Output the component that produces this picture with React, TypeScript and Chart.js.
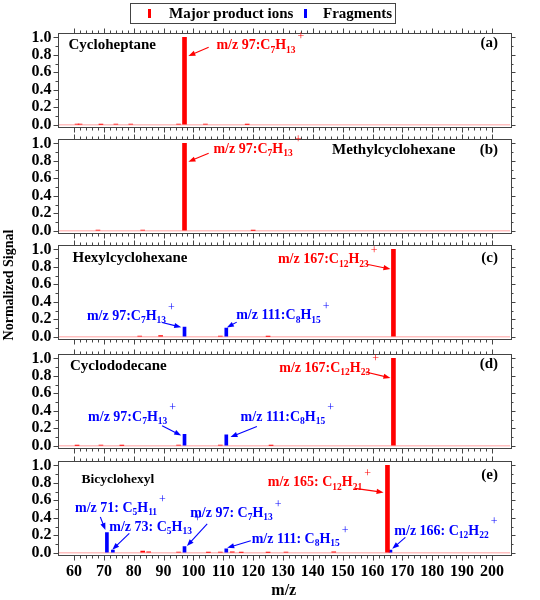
import React, { useEffect, useRef } from 'react';
import { Chart, registerables } from 'chart.js';

Chart.register(...registerables);

// ---------- data ----------
const X_TICKS = [60, 70, 80, 90, 100, 110, 120, 130, 140, 150, 160, 170, 180, 190, 200];
const Y_TICKS = [0, 0.2, 0.4, 0.6, 0.8, 1.0];
const LEGEND_LABELS = ['Major product ions', 'Fragments'];
const PANEL_NAMES = ['Cycloheptane', 'Methylcyclohexane', 'Hexylcyclohexane', 'Cyclododecane', 'Bicyclohexyl'];
const PANEL_TAGS = ['(a)', '(b)', '(c)', '(d)', '(e)'];

// (a) Cycloheptane
const majorA_mz = [61, 62, 69, 74, 79, 95, 97, 104, 118];
const majorA_val = [0.008, 0.006, 0.005, 0.008, 0.007, 0.006, 1.0, 0.006, 0.004];
const fragA_mz: number[] = [];
const fragA_val: number[] = [];

// (b) Methylcyclohexane
const majorB_mz = [68, 83, 97, 120];
const majorB_val = [0.006, 0.008, 1.0, 0.005];
const fragB_mz: number[] = [];
const fragB_val: number[] = [];

// (c) Hexylcyclohexane
const majorC_mz = [82, 89, 109, 125, 167];
const majorC_val = [0.008, 0.014, 0.006, 0.005, 1.0];
const fragC_mz = [97, 111];
const fragC_val = [0.11, 0.1];

// (d) Cyclododecane
const majorD_mz = [61, 69, 76, 95, 109, 126, 167];
const majorD_val = [0.005, 0.006, 0.005, 0.008, 0.006, 0.005, 1.0];
const fragD_mz = [97, 111];
const fragD_val = [0.13, 0.125];

// (e) Bicyclohexyl
const majorE_mz = [83, 85, 95, 105, 109, 113, 116, 125, 131, 147, 165];
const majorE_val = [0.02, 0.012, 0.008, 0.005, 0.008, 0.01, 0.005, 0.005, 0.008, 0.012, 1.0];
const fragE_mz = [71, 73, 97, 111, 166];
const fragE_val = [0.23, 0.03, 0.07, 0.045, 0.03];

// ---------- styles ----------
const RED = '#ff0000';
const BLUE = '#0000ff';
const BOX = '#444444';
const SERIF = '"Liberation Serif", "Times New Roman", serif';

type Ann = { text: string; color: string; x: number; y: number; from: [number, number]; to: [number, number] };

const ANNOTATIONS: Ann[][] = [
  [{ text: 'm/z 97:C_7H_{13}^+', color: RED, x: 107.7, y: 0.905, from: [105.1, 0.886], to: [98.3, 0.787] }],
  [{ text: 'm/z 97:C_7H_{13}^+', color: RED, x: 106.7, y: 0.935, from: [105.1, 0.886], to: [98.3, 0.79] }],
  [
    { text: 'm/z 167:C_{12}H_{23}^+', color: RED, x: 128.3, y: 0.88, from: [157.7, 0.833], to: [166.0, 0.775] },
    { text: 'm/z 97:C_7H_{13}^+', color: BLUE, x: 64.3, y: 0.233, from: [89.5, 0.164], to: [95.9, 0.11] },
    { text: 'm/z 111:C_8H_{15}^+', color: BLUE, x: 114.3, y: 0.24, from: [114.5, 0.168], to: [111.2, 0.106] },
  ],
  [
    { text: 'm/z 167:C_{12}H_{23}^+', color: RED, x: 128.75, y: 0.888, from: [157.7, 0.844], to: [166.0, 0.776] },
    { text: 'm/z 97:C_7H_{13}^+', color: BLUE, x: 64.7, y: 0.33, from: [89.5, 0.23], to: [95.9, 0.118] },
    { text: 'm/z 111:C_8H_{15}^+', color: BLUE, x: 115.8, y: 0.33, from: [121.25, 0.22], to: [112.4, 0.1] },
  ],
  [
    { text: 'm/z 165: C_{12}H_{21}^+', color: RED, x: 124.9, y: 0.801, from: [154.1, 0.737], to: [163.7, 0.691] },
    { text: 'm/z 71: C_5H_{11}^+', color: BLUE, x: 60.3, y: 0.508, from: [68.8, 0.41], to: [70.5, 0.26] },
    { text: 'm/z 73: C_5H_{13}^+', color: BLUE, x: 71.8, y: 0.29, from: [78.5, 0.222], to: [72.8, 0.035] },
    { text: 'm/z 97: C_7H_{13}^+', color: BLUE, x: 98.9, y: 0.45, from: [104.6, 0.33], to: [97.8, 0.077] },
    { text: 'm/z 111: C_8H_{15}^+', color: BLUE, x: 119.5, y: 0.153, from: [119.2, 0.137], to: [111.3, 0.057] },
    { text: 'm/z 166: C_{12}H_{22}^+', color: BLUE, x: 167.3, y: 0.248, from: [171.0, 0.176], to: [166.6, 0.046] },
  ],
];

const PANEL_DATA = [
  { major: [majorA_mz, majorA_val], frag: [fragA_mz, fragA_val] },
  { major: [majorB_mz, majorB_val], frag: [fragB_mz, fragB_val] },
  { major: [majorC_mz, majorC_val], frag: [fragC_mz, fragC_val] },
  { major: [majorD_mz, majorD_val], frag: [fragD_mz, fragD_val] },
  { major: [majorE_mz, majorE_val], frag: [fragE_mz, fragE_val] },
];

// layout: label placement per panel (px offsets relative to chart area)
const NAME_POS = [
  { dx: 11, dy: 12.5, size: 15 },
  { dx: 274.5, dy: 11, size: 15 },
  { dx: 15, dy: 13.5, size: 15 },
  { dx: 12.5, dy: 12, size: 15 },
  { dx: 24, dy: 19, size: 13.5 },
];
const TAG_DY = [10, 11, 13.5, 10.5, 14];
const AREA_TOPS = [33, 139, 245, 354, 461];
const AREA_H = 94;
const PAD = 18;
const X_AXIS_H = 44;

type Seg = { t: string; k: 'n' | 'sub' | 'sup' };
function parseRich(s: string): Seg[] {
  const segs: Seg[] = [];
  const re = /_\{([^}]*)\}|_(.)|\^\{([^}]*)\}|\^(.)|([^_^]+)/g;
  let m: RegExpExecArray | null;
  while ((m = re.exec(s))) {
    if (m[1] !== undefined || m[2] !== undefined) segs.push({ t: (m[1] ?? m[2]) as string, k: 'sub' });
    else if (m[3] !== undefined || m[4] !== undefined) segs.push({ t: (m[3] ?? m[4]) as string, k: 'sup' });
    else segs.push({ t: m[5], k: 'n' });
  }
  return segs;
}

function drawRich(ctx: CanvasRenderingContext2D, text: string, x: number, y: number, color: string) {
  let cx = x;
  ctx.fillStyle = color;
  ctx.textAlign = 'left';
  ctx.textBaseline = 'middle';
  for (const s of parseRich(text)) {
    if (s.k === 'n') {
      ctx.font = `bold 14px ${SERIF}`;
      ctx.fillText(s.t, cx, y);
      cx += ctx.measureText(s.t).width;
    } else if (s.k === 'sub') {
      ctx.font = `bold 9.5px ${SERIF}`;
      ctx.fillText(s.t, cx, y + 4.5);
      cx += ctx.measureText(s.t).width;
    } else {
      ctx.font = `12px ${SERIF}`;
      cx += 2;
      ctx.fillText(s.t, cx, y - 9);
      cx += ctx.measureText(s.t).width;
    }
  }
}

function drawArrow(ctx: CanvasRenderingContext2D, x1: number, y1: number, x2: number, y2: number, color: string) {
  const ang = Math.atan2(y2 - y1, x2 - x1);
  const hl = 7;
  const hw = 2.6;
  ctx.strokeStyle = color;
  ctx.fillStyle = color;
  ctx.lineWidth = 1.1;
  ctx.beginPath();
  ctx.moveTo(x1, y1);
  ctx.lineTo(x2 - Math.cos(ang) * hl * 0.8, y2 - Math.sin(ang) * hl * 0.8);
  ctx.stroke();
  ctx.beginPath();
  ctx.moveTo(x2, y2);
  ctx.lineTo(x2 - Math.cos(ang) * hl - Math.sin(ang) * hw, y2 - Math.sin(ang) * hl + Math.cos(ang) * hw);
  ctx.lineTo(x2 - Math.cos(ang) * hl + Math.sin(ang) * hw, y2 - Math.sin(ang) * hl - Math.cos(ang) * hw);
  ctx.closePath();
  ctx.fill();
}

function makeDecoPlugin(idx: number) {
  return {
    id: 'deco' + idx,
    afterDraw(chart: any) {
      const ctx: CanvasRenderingContext2D = chart.ctx;
      const { left, right, top, bottom } = chart.chartArea;
      const xs = chart.scales.x;
      const ys = chart.scales.y;
      ctx.save();
      // frame
      ctx.strokeStyle = BOX;
      ctx.lineWidth = 1;
      ctx.strokeRect(Math.round(left) + 0.5, Math.round(top) + 0.5, Math.round(right - left), Math.round(bottom - top));
      // x ticks top/bottom (outward)
      ctx.beginPath();
      for (let v = 60; v <= 200; v += 2) {
        const px = Math.round(xs.getPixelForValue(v)) + 0.5;
        const len = v % 10 === 0 ? 4.5 : 2.5;
        ctx.moveTo(px, Math.round(top));
        ctx.lineTo(px, Math.round(top) - len);
        ctx.moveTo(px, Math.round(bottom) + 1);
        ctx.lineTo(px, Math.round(bottom) + 1 + len);
      }
      // y ticks left/right (outward)
      for (let i = 0; i <= 10; i++) {
        const py = Math.round(ys.getPixelForValue(i / 10)) + 0.5;
        const len = i % 2 === 0 ? 4.5 : 2.5;
        ctx.moveTo(Math.round(left), py);
        ctx.lineTo(Math.round(left) - len, py);
        ctx.moveTo(Math.round(right) + 1, py);
        ctx.lineTo(Math.round(right) + 1 + len, py);
      }
      ctx.stroke();
      // panel names and tags
      const np = NAME_POS[idx];
      ctx.fillStyle = '#000';
      ctx.textBaseline = 'middle';
      ctx.textAlign = 'left';
      ctx.font = `bold ${np.size}px ${SERIF}`;
      ctx.fillText(PANEL_NAMES[idx], left + np.dx, top + np.dy);
      ctx.textAlign = 'right';
      ctx.font = `bold 15px ${SERIF}`;
      ctx.fillText(PANEL_TAGS[idx], right - 12, top + TAG_DY[idx]);
      // annotations
      for (const a of ANNOTATIONS[idx]) {
        drawArrow(ctx, xs.getPixelForValue(a.from[0]), ys.getPixelForValue(a.from[1]), xs.getPixelForValue(a.to[0]), ys.getPixelForValue(a.to[1]), a.color);
        drawRich(ctx, a.text, xs.getPixelForValue(a.x), ys.getPixelForValue(a.y), a.color);
      }
      ctx.restore();
    },
  };
}

function Panel({ idx }: { idx: number }) {
  const ref = useRef<HTMLCanvasElement>(null);
  const last = idx === PANEL_DATA.length - 1;
  const h = PAD + AREA_H + (last ? X_AXIS_H : PAD);
  useEffect(() => {
    if (!ref.current) return;
    const d = PANEL_DATA[idx];
    const tickFont = { family: SERIF, size: 16, weight: 'bold' as const };
    const chart = new Chart(ref.current, {
      type: 'bar',
      data: {
        datasets: [
          { label: LEGEND_LABELS[0], data: d.major[0].map((x, i) => ({ x, y: d.major[1][i] })), backgroundColor: RED, barThickness: 4, grouped: false } as any,
          { label: LEGEND_LABELS[1], data: d.frag[0].map((x, i) => ({ x, y: d.frag[1][i] })), backgroundColor: BLUE, barThickness: 3, grouped: false } as any,
        ],
      },
      options: {
        responsive: false,
        animation: false,
        layout: { padding: { top: PAD, bottom: last ? 0 : PAD, left: 0, right: 30 } },
        plugins: { legend: { display: false }, tooltip: { enabled: false } },
        scales: {
          x: {
            type: 'linear',
            min: 59.5,
            max: 201,
            display: last,
            afterBuildTicks: (s: any) => {
              s.ticks = X_TICKS.map((v) => ({ value: v }));
            },
            afterFit: (s: any) => {
              if (last) s.height = X_AXIS_H;
            },
            grid: { display: false, drawTicks: false },
            border: { display: false },
            ticks: { display: last, font: tickFont, color: '#000', padding: 7, maxRotation: 0, autoSkip: false },
            title: {
              display: last,
              text: 'm/z',
              font: { family: SERIF, size: 16, weight: 'bold', lineHeight: 1 },
              color: '#000',
              padding: { top: 0, bottom: 0 },
            },
          },
          y: {
            type: 'linear',
            min: -0.025,
            max: 1.05,
            afterBuildTicks: (s: any) => {
              s.ticks = Y_TICKS.map((v) => ({ value: v }));
            },
            afterFit: (s: any) => {
              s.width = 57.5;
            },
            grid: {
              drawTicks: false,
              color: (c: any) => (c.tick && c.tick.value === 0 ? 'rgba(255,0,0,0.25)' : 'rgba(0,0,0,0)'),
              lineWidth: 1.5,
            },
            border: { display: false },
            ticks: { font: tickFont, color: '#000', padding: 6, autoSkip: false, callback: (v: any) => Number(v).toFixed(1) },
          },
        },
      } as any,
      plugins: [makeDecoPlugin(idx)],
    });
    return () => chart.destroy();
  }, [idx]);
  return (
    <canvas
      ref={ref}
      width={540}
      height={h}
      style={{ position: 'absolute', left: 0, top: AREA_TOPS[idx] - PAD, width: 540, height: h }}
    />
  );
}

export default function App() {
  return (
    <div style={{ position: 'absolute', left: 0, top: 0, width: 540, height: 600, background: '#fff', overflow: 'hidden' }}>
      {PANEL_DATA.map((_, i) => (
        <Panel key={i} idx={i} />
      ))}
      {/* legend */}
      <div
        style={{
          position: 'absolute',
          left: 130,
          top: 3,
          width: 266,
          height: 21,
          border: `1px solid ${BOX}`,
          boxSizing: 'border-box',
          fontFamily: SERIF,
          fontWeight: 'bold',
          fontSize: 15,
          color: '#000',
        }}
      >
        <span style={{ position: 'absolute', left: 17, top: 5, width: 3, height: 9, background: RED }} />
        <span style={{ position: 'absolute', left: 38, top: 0, lineHeight: '19px', whiteSpace: 'nowrap' }}>{LEGEND_LABELS[0]}</span>
        <span style={{ position: 'absolute', left: 173, top: 5, width: 3, height: 9, background: BLUE }} />
        <span style={{ position: 'absolute', left: 192, top: 0, lineHeight: '19px', whiteSpace: 'nowrap' }}>{LEGEND_LABELS[1]}</span>
      </div>
      {/* y title */}
      <div
        style={{
          position: 'absolute',
          left: 9 - 100,
          top: 285 - 10,
          width: 200,
          height: 20,
          lineHeight: '20px',
          textAlign: 'center',
          transform: 'rotate(-90deg)',
          fontFamily: SERIF,
          fontWeight: 'bold',
          fontSize: 14,
          color: '#000',
          whiteSpace: 'nowrap',
        }}
      >
        Normalized Signal
      </div>
    </div>
  );
}
